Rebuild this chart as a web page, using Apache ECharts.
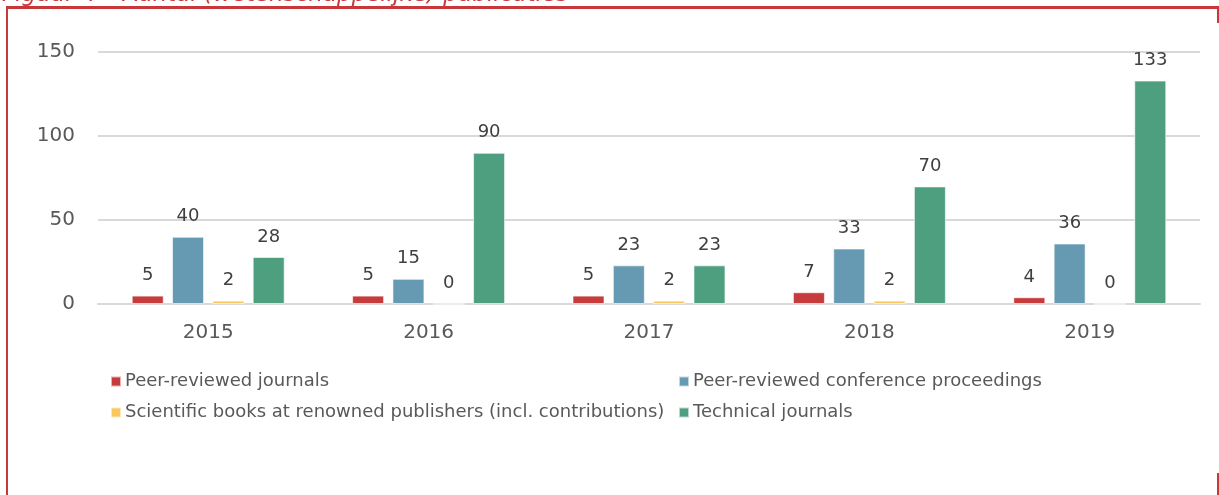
<!DOCTYPE html>
<html>
<head>
<meta charset="utf-8">
<script src="https://cdn.jsdelivr.net/npm/echarts@6/dist/echarts.min.js"></script>
<style>
html,body{margin:0;padding:0;background:#fff;}
#chart{width:1219px;height:495px;}
</style>
</head>
<body>
<div id="chart"></div>
<script>
const titleText = 'Figuur 4 – Aantal (wetenschappelijke) publicaties';
const categories = ['2015', '2016', '2017', '2018', '2019'];
const seriesNames = [
  'Peer-reviewed journals',
  'Peer-reviewed conference proceedings',
  'Scientific books at renowned publishers (incl. contributions)',
  'Technical journals'
];
const peerJournals = [5, 5, 5, 7, 4];
const conferenceProceedings = [40, 15, 23, 33, 36];
const scientificBooks = [2, 0, 2, 2, 0];
const technicalJournals = [28, 90, 23, 70, 133];
const yTicks = [0, 50, 100, 150];

const colors = ['#C63B3B', '#6699B2', '#F8C85C', '#4E9E80'];
const values = [peerJournals, conferenceProceedings, scientificBooks, technicalJournals];
const FONT = 'DejaVu Sans';

const legendBase = {
  top: 371, orient: 'vertical', padding: 0,
  itemWidth: 10, itemHeight: 10, itemGap: 10,
  icon: 'rect',
  textStyle: {color: '#595959', fontSize: 18, lineHeight: 21, fontFamily: FONT, padding: [0,0,0,-1]}
};

const chart = echarts.init(document.getElementById('chart'), null, {renderer: 'canvas'});
chart.setOption({
  backgroundColor: '#ffffff',
  animation: false,
  textStyle: {fontFamily: FONT},
  grid: {left: 98, right: 19, top: 52, bottom: 191},
  graphic: [
    {type: 'text', left: 2, top: -16, style: {text: titleText, fill: '#C8383B', font: 'italic 23px ' + FONT}},
    {type: 'rect', shape: {x: 6, y: 6, width: 1213, height: 3}, style: {fill: '#C8383B'}},
    {type: 'rect', shape: {x: 6, y: 6, width: 2, height: 489}, style: {fill: '#C8383B'}},
    {type: 'rect', shape: {x: 1217, y: 6, width: 2, height: 17}, style: {fill: '#C8383B'}},
    {type: 'rect', shape: {x: 1217, y: 473, width: 2, height: 22}, style: {fill: '#C8383B'}}
  ],
  legend: [
    Object.assign({left: 110, data: [seriesNames[0], seriesNames[2]]}, legendBase),
    Object.assign({left: 678, data: [seriesNames[1], seriesNames[3]]}, legendBase)
  ],
  xAxis: {
    type: 'category', data: categories,
    axisLine: {show: true, lineStyle: {color: '#D9D9D9', width: 2}},
    axisTick: {show: false},
    axisLabel: {color: '#595959', fontSize: 20, margin: 19, fontFamily: FONT}
  },
  yAxis: {
    type: 'value', min: yTicks[0], max: yTicks[yTicks.length - 1], interval: 50,
    axisLine: {show: false}, axisTick: {show: false},
    splitLine: {lineStyle: {color: '#D9D9D9', width: 2}},
    axisLabel: {color: '#595959', fontSize: 20, margin: 23, fontFamily: FONT}
  },
  series: seriesNames.map((n, i) => ({
    name: n, type: 'bar', data: values[i],
    barWidth: 32, barGap: '26%',
    itemStyle: {color: colors[i], borderColor: 'rgba(255,255,255,0.6)', borderWidth: 1},
    label: {show: true, position: 'top', distance: 11, color: '#404040', fontSize: 18, fontFamily: FONT}
  }))
});
</script>
</body>
</html>
